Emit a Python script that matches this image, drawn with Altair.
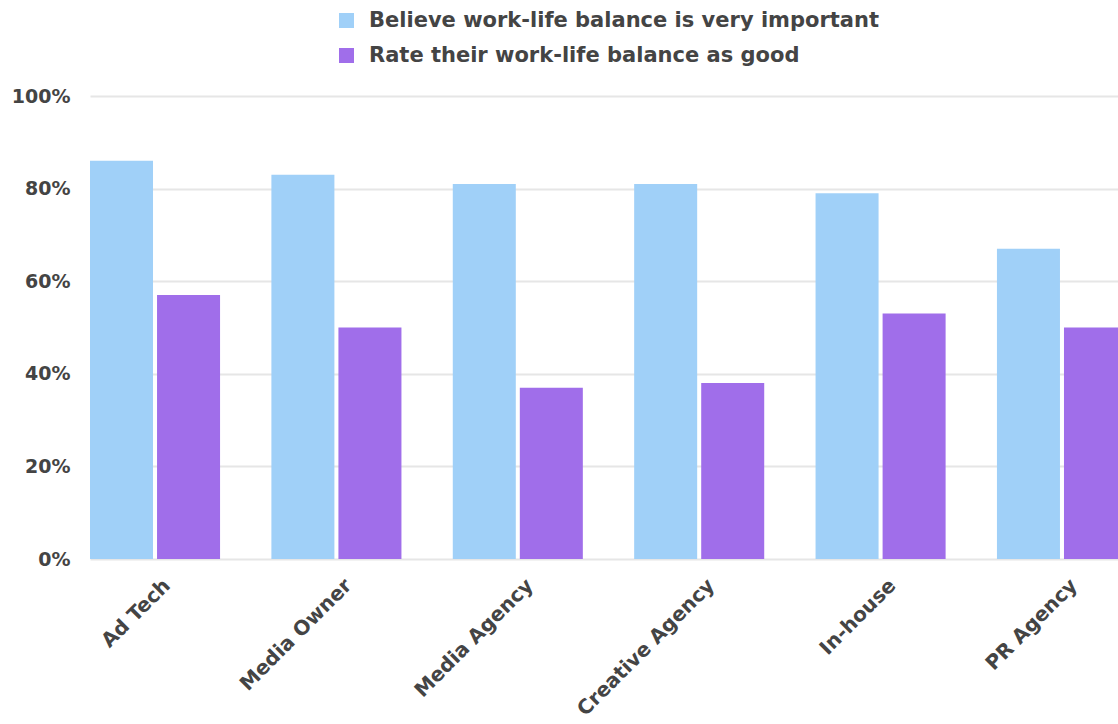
import altair as alt
import pandas as pd

# Survey results by sector (percent of respondents)
categories = ["Ad Tech", "Media Owner", "Media Agency", "Creative Agency", "In-house", "PR Agency"]
series = ["Believe work-life balance is very important", "Rate their work-life balance as good"]
important = [86, 83, 81, 81, 79, 67]
good = [57, 50, 37, 38, 53, 50]
colors = ["#a0d0f8", "#a06eea"]
y_ticks = [0, 20, 40, 60, 80, 100]

rows = []
for sector, v in zip(categories, important):
    rows.append({"sector": sector, "group": series[0], "value": v})
for sector, v in zip(categories, good):
    rows.append({"sector": sector, "group": series[1], "value": v})
df = pd.DataFrame(rows)

FONT = "DejaVu Sans"
TEXT = "#444444"

bars = alt.Chart(df).mark_bar(clip=True).encode(
    x=alt.X(
        "sector:N",
        sort=categories,
        scale=alt.Scale(range=[0, 1037], paddingInner=0.283, paddingOuter=0),
        axis=alt.Axis(
            title=None,
            labelAngle=-45,
            labelAlign="right",
            labelBaseline="top",
            labelPadding=16,
            labelOffset=5,
            labelLimit=0,
            ticks=False,
            domain=False,
            labelFont=FONT,
            labelFontSize=20,
            labelFontWeight="bold",
            labelColor=TEXT,
        ),
    ),
    xOffset=alt.XOffset(
        "group:N",
        sort=series,
        scale=alt.Scale(paddingInner=0.06, paddingOuter=0),
    ),
    y=alt.Y(
        "value:Q",
        scale=alt.Scale(domain=[0, 100]),
        axis=alt.Axis(
            title=None,
            values=y_ticks,
            labelExpr="datum.value + '%'",
            ticks=False,
            domain=False,
            gridColor="#e6e6e6",
            gridWidth=2,
            labelPadding=20,
            labelFont=FONT,
            labelFontSize=19,
            labelFontWeight="bold",
            labelColor=TEXT,
        ),
    ),
    color=alt.Color(
        "group:N",
        sort=series,
        scale=alt.Scale(domain=series, range=colors),
        legend=alt.Legend(
            title=None,
            orient="none",
            legendX=246,
            legendY=-86,
            padding=0,
            symbolType="square",
            symbolSize=225,
            symbolStrokeWidth=0,
            labelFont=FONT,
            labelFontSize=21,
            labelFontWeight="bold",
            labelColor=TEXT,
            labelOffset=12,
            rowPadding=13,
            labelLimit=0,
        ),
    ),
)

chart = bars.properties(
    width=1028,
    height=463,
    autosize="none",
    padding={"left": 90, "top": 96, "right": 0, "bottom": 165},
).configure_view(stroke=None)

chart.save("out.html", embed_options={"renderer": "svg", "actions": False})
